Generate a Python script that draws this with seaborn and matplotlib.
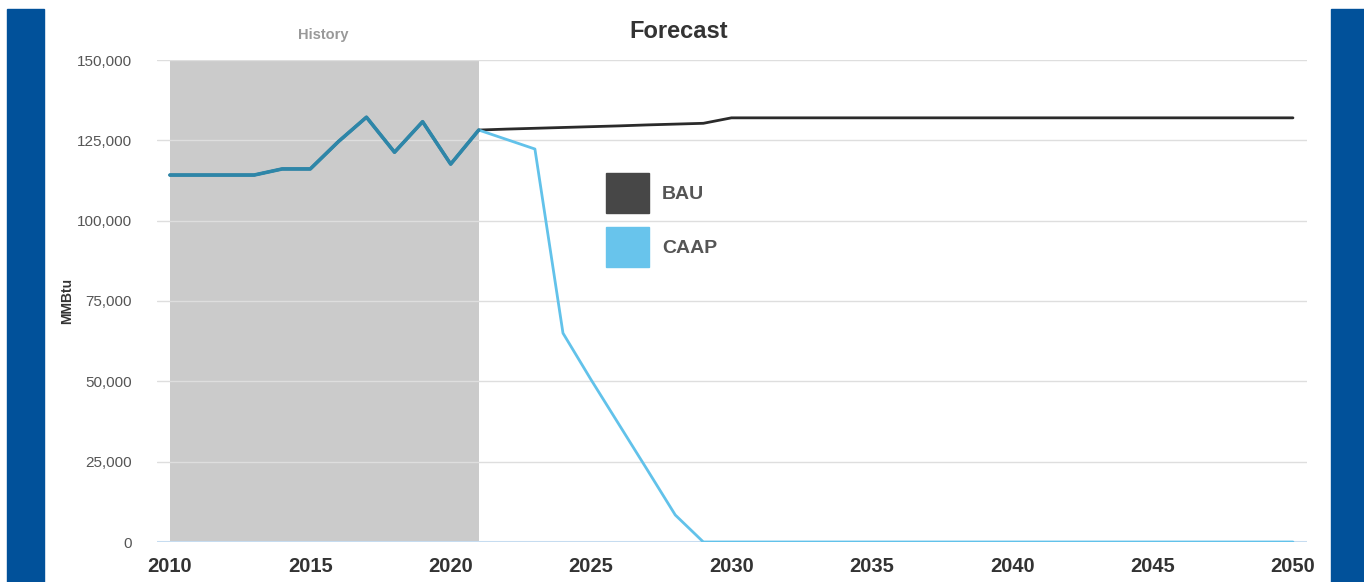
import numpy as np
import pandas as pd
import matplotlib
matplotlib.use("Agg")
import matplotlib.pyplot as plt
import matplotlib.patches as mpatches
import seaborn as sns

# data
years = list(range(2010, 2051))
history_end = 2021
bau = [114200, 114200, 114200, 114200, 116100, 116100, 124600, 132200, 121300, 130800,
       117600, 128200, 128500, 128750, 129000, 129250, 129500, 129800, 130050, 130300,
       132000] + [132000] * 20
caap = [114200, 114200, 114200, 114200, 116100, 116100, 124600, 132200, 121300, 130800,
        117600, 128200, 125250, 122300, 65000, 50500, 36500, 22500, 8400, 0] + [0] * 21
x_ticks = [2010, 2015, 2020, 2025, 2030, 2035, 2040, 2045, 2050]
y_ticks = [0, 25000, 50000, 75000, 100000, 125000, 150000]

df = pd.DataFrame({"year": years, "BAU": bau, "CAAP": caap})
hist = df[df["year"] <= history_end]

sns.set_style("white")
plt.rcParams["font.family"] = ["Liberation Sans", "DejaVu Sans"]

fig = plt.figure(figsize=(13.64, 5.82), dpi=100)
ax = fig.add_axes([157 / 1364, 40 / 582, 1150 / 1364, 482 / 582])

# side bars of the page
fig.patches.append(mpatches.Rectangle((7 / 1364, 0), 37 / 1364, 573 / 582,
                                      transform=fig.transFigure, color="#01519a", zorder=-5))
fig.patches.append(mpatches.Rectangle((1331 / 1364, 0), 33 / 1364, 573 / 582,
                                      transform=fig.transFigure, color="#01519a", zorder=-5))

ax.axvspan(2010, history_end, color="#cbcbcb", zorder=0.1, lw=0)
ax.axhline(0, color="#c6dcf0", lw=1.5, zorder=1)

sns.lineplot(data=df, x="year", y="BAU", color="#2b2b2b", lw=2, ax=ax, zorder=3)
sns.lineplot(data=df, x="year", y="CAAP", color="#62c2ea", lw=2, ax=ax, zorder=4)
sns.lineplot(data=hist, x="year", y="BAU", color="#2e86a8", lw=2.6, ax=ax, zorder=5)

ax.set_xlim(2009.54, 2050.5)
ax.set_ylim(0, 150000)
ax.set_xticks(x_ticks)
ax.set_yticks(y_ticks)
ax.set_xticklabels([str(t) for t in x_ticks], fontsize=14.5, fontweight="bold", color="#333333")
ax.set_yticklabels([f"{t:,}" for t in y_ticks], fontsize=11, color="#555555")
ax.tick_params(axis="both", length=0)
ax.tick_params(axis="x", pad=11)
ax.tick_params(axis="y", pad=18)
ax.grid(axis="y", color="#dedede", lw=1)
ax.grid(axis="x", visible=False)
ax.set_axisbelow(True)
for s in ax.spines.values():
    s.set_visible(False)

ax.set_xlabel("")
ax.set_ylabel("MMBtu", fontsize=10, fontweight="bold", color="#333333")
ax.yaxis.set_label_coords(-0.072, 0.5)

fig.text(679 / 1364, 1 - 31 / 582, "Forecast", ha="center", va="center",
         fontsize=17, fontweight="bold", color="#333333")
fig.text(323 / 1364, 1 - 35 / 582, "History", ha="center", va="center",
         fontsize=10.5, fontweight="bold", color="#999999")

handles = [mpatches.Patch(color="#474747", label="BAU"),
           mpatches.Patch(color="#68c4ec", label="CAAP")]
leg = ax.legend(handles=handles, loc="upper left", bbox_to_anchor=(0.384, 0.782),
                frameon=False, handlelength=2.2, handleheight=2.78, labelspacing=0.75,
                handletextpad=0.67, borderaxespad=0,
                prop={"size": 14, "weight": "bold"})
for t in leg.get_texts():
    t.set_color("#555555")

fig.savefig("out.png", dpi=100)
